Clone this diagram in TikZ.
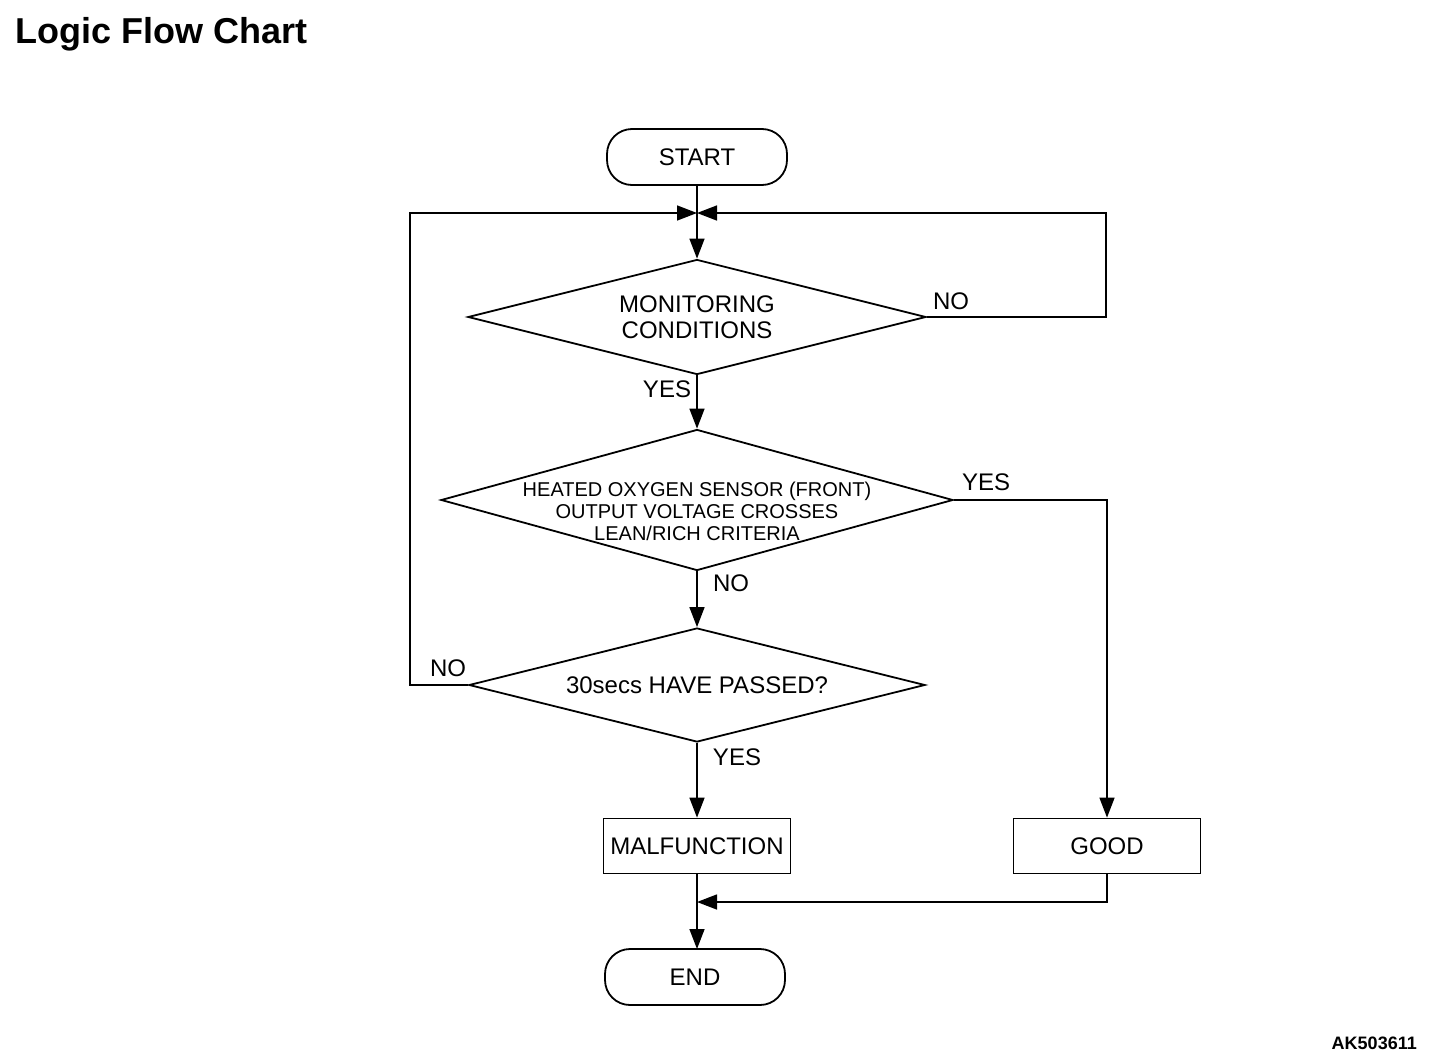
\documentclass[tikz,border=0pt]{standalone}
\usepackage{fontspec}
\setmainfont{Liberation Sans}
\usetikzlibrary{shapes.geometric,arrows.meta}
\begin{document}
\begin{tikzpicture}[x=1pt,y=-1pt,
  shapeline/.style={draw=black,line width=1.8pt},
  term/.style={shapeline,rectangle,rounded corners=25pt,minimum width=180pt,minimum height=56pt,inner sep=0pt,font=\fontsize{24}{28}\selectfont},
  procbox/.style={shapeline,rectangle,minimum width=187pt,minimum height=55pt,inner sep=0pt,font=\fontsize{24}{28}\selectfont},
  dia/.style={shapeline,diamond,inner sep=0pt},
  diatext/.style={align=center,inner sep=0pt},
  lbl/.style={font=\fontsize{24}{28}\selectfont,inner sep=0pt},
  conn/.style={draw=black,line width=1.5pt},
  arr/.style={conn,-{Triangle[length=20pt,width=15pt]}}
]
\useasboundingbox[fill=white] (0,0) rectangle (1456,1060);

\node[anchor=base west,inner sep=0pt,font=\fontsize{36}{40}\selectfont\bfseries] (title) at (15,43) {Logic Flow Chart};
\node[anchor=base east,inner sep=0pt,font=\fontsize{18}{20}\selectfont\bfseries] (code) at (1417,1049) {AK503611};

\node[term] (start) at (697,157) {START};
\node[dia,minimum width=458pt,minimum height=115pt] (d1) at (697,317) {};
\node[diatext,font=\fontsize{24}{26}\selectfont] (d1t) at (697,317) {MONITORING\\CONDITIONS};
\node[dia,minimum width=512pt,minimum height=141pt] (d2) at (697,500) {};
\node[diatext,font=\fontsize{20}{22}\selectfont] (d2t) at (697,511) {HEATED OXYGEN SENSOR (FRONT)\\OUTPUT VOLTAGE CROSSES\\LEAN/RICH CRITERIA};
\node[dia,minimum width=456pt,minimum height=114pt] (d3) at (697,685) {};
\node[diatext,font=\fontsize{24}{26}\selectfont] (d3t) at (697,685) {30secs HAVE PASSED?};
\node[procbox] (malf) at (697,846) {MALFUNCTION};
\node[procbox] (good) at (1107,846) {GOOD};
\node[term] (end) at (695,977) {END};

\coordinate (j1) at (697,213);
\coordinate (j2) at (697,902);

\draw[conn] (start.south) -- (j1);
\draw[arr] (j1) -- (d1.north);
\draw[arr] (d1.east) -- (1106,317) -- (1106,213) -- (j1);
\draw[arr] (d3.west) -- (410,685) -- (410,213) -- (j1);
\draw[arr] (d1.south) -- (d2.north);
\draw[arr] (d2.east) -- (1107,500) -- (good.north);
\draw[arr] (d2.south) -- (d3.north);
\draw[arr] (d3.south) -- (malf.north);
\draw[conn] (malf.south) -- (j2);
\draw[arr] (j2) -- (697,949);
\draw[arr] (good.south) -- (1107,902) -- (j2);

\node[lbl] (l1) at (951,301) {NO};
\node[lbl] (l2) at (667,389) {YES};
\node[lbl] (l3) at (986,482) {YES};
\node[lbl] (l4) at (731,583) {NO};
\node[lbl] (l5) at (448,668) {NO};
\node[lbl] (l6) at (737,757) {YES};
\end{tikzpicture}
\end{document}
